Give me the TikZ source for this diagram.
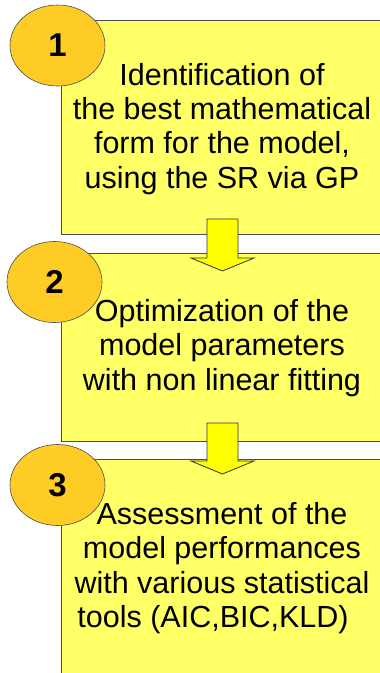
\documentclass[tikz,border=0pt]{standalone}
\usepackage{fontspec}
\setmainfont{Liberation Sans}
\usetikzlibrary{shapes.geometric}
\definecolor{boxyellow}{RGB}{255,255,102}
\definecolor{discgold}{RGB}{255,204,38}
\definecolor{arrowyellow}{RGB}{255,255,0}
\tikzset{
  stepbox/.style={draw=gray!60!black,line width=0.9pt,fill=boxyellow,anchor=north west,inner sep=0pt},
  stepdisc/.style={ellipse,draw=black!70,line width=0.6pt,fill=discgold,minimum width=95,minimum height=81,inner sep=0pt,font=\fontsize{33}{36}\selectfont\bfseries},
  steptext/.style={align=center,font=\fontsize{30.5}{34.2}\selectfont},
  blockarrow/.style={draw=black!80,line width=0.8pt,fill=arrowyellow,line join=miter}
}
\begin{document}
\begin{tikzpicture}[x=1pt,y=-1pt]
  \useasboundingbox (0,0) rectangle (380,673);
  % the three steps
  \node[stepbox,minimum width=340,minimum height=214] (box1) at (61,20) {};
  \node[stepbox,minimum width=340,minimum height=188] (box2) at (61,253) {};
  \node[stepbox,minimum width=340,minimum height=230] (box3) at (61,459) {};
  \node[steptext] (txt1) at (222,129) {Identification of\\the best mathematical\\form for the model,\\using the SR via GP};
  \node[steptext] (txt2) at (222,348) {Optimization of the\\model parameters\\with non linear fitting};
  \node[steptext] (txt3) at (222,568) {Assessment of the\\model performances\\with various statistical\\tools (AIC,BIC,KLD)\hspace*{18pt}};
  % arrows between the steps
  \draw[blockarrow] (207,219) -- (238,219) -- (238,258) -- (254,258) -- (222.5,271)
    -- (191,258) -- (207,258) -- cycle;
  \draw[blockarrow] (207,423) -- (238,423) -- (238,461) -- (254,461) -- (222.5,474)
    -- (191,461) -- (207,461) -- cycle;
  % numbers
  \node[stepdisc] (num1) at (57.5,45.5) {1};
  \node[stepdisc] (num2) at (54.5,282) {2};
  \node[stepdisc] (num3) at (57.5,485) {3};
\end{tikzpicture}
\end{document}
